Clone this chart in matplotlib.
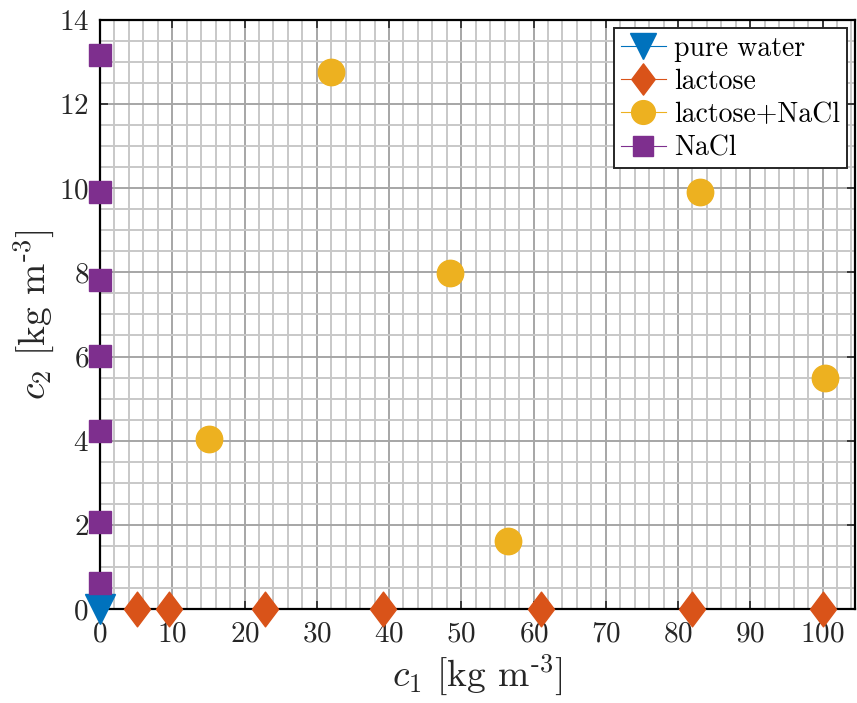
import matplotlib
matplotlib.use('Agg')
import matplotlib.pyplot as plt
from matplotlib.lines import Line2D
from matplotlib.path import Path
from matplotlib.ticker import MultipleLocator

plt.rcParams['font.family'] = 'cmr10'
plt.rcParams['mathtext.fontset'] = 'cm'
plt.rcParams['axes.formatter.use_mathtext'] = True

# data
water_x = [0]
water_y = [0]
lactose_x = [5.1, 9.5, 22.8, 39.1, 61.0, 82.0, 100.0]
lactose_y = [0, 0, 0, 0, 0, 0, 0]
mix_x = [15.1, 32.0, 48.4, 56.4, 83.0, 100.3]
mix_y = [4.05, 12.76, 7.98, 1.62, 9.9, 5.48]
nacl_x = [0, 0, 0, 0, 0, 0, 0]
nacl_y = [13.17, 9.9, 7.83, 6.02, 4.24, 2.07, 0.62]

names = ['pure water', 'lactose', 'lactose+NaCl', 'NaCl']
colors = ['#0072BD', '#D95319', '#EDB120', '#7E2F8E']

# taller MATLAB-like diamond
diamond = Path([(0, 1), (0.75, 0), (0, -1), (-0.75, 0), (0, 1)],
               [Path.MOVETO, Path.LINETO, Path.LINETO, Path.LINETO, Path.CLOSEPOLY])
markers = ['v', diamond, 'o', 's']
sizes = [21, 25, 19, 16]

fig = plt.figure(figsize=(8.57, 7.03), dpi=100)
ax = fig.add_axes([0.1167, 0.1337, 0.881, 0.838])

series = [(water_x, water_y), (lactose_x, lactose_y), (mix_x, mix_y), (nacl_x, nacl_y)]
for (xs, ys), c, m, s in zip(series, colors, markers, sizes):
    ax.plot(xs, ys, linestyle='none', marker=m, markersize=s,
            color=c, markeredgecolor=c, clip_on=False, zorder=5)

ax.set_xlim(0, 104.5)
ax.set_ylim(0, 14)
ax.xaxis.set_major_locator(MultipleLocator(10))
ax.xaxis.set_minor_locator(MultipleLocator(2))
ax.yaxis.set_major_locator(MultipleLocator(2))
ax.yaxis.set_minor_locator(MultipleLocator(0.5))

ax.grid(which='major', color='#a6a6a6', linewidth=1.4)
ax.grid(which='minor', color='#c8c8c8', linewidth=1.4)
ax.set_axisbelow(True)
ax.tick_params(which='major', direction='in', length=6, width=1.2,
               top=True, right=True, labelsize=21, colors='#262626')
ax.tick_params(axis='x', which='major', pad=9)
ax.tick_params(axis='y', which='major', pad=8)
ax.tick_params(which='minor', length=0)
for sp in ax.spines.values():
    sp.set_linewidth(1.6)
    sp.set_color('black')

ax.set_xlabel(r'$c_1$ [kg m$^{\text{-3}}$]', fontsize=27, color='#262626', labelpad=3)
ax.set_ylabel(r'$c_2$ [kg m$^{\text{-3}}$]', fontsize=27, color='#262626', labelpad=2)

handles = [Line2D([0], [0], color=c, lw=0.8, marker=m, markersize=s * 0.9,
                  markeredgecolor=c) for c, m, s in zip(colors, markers, sizes)]
leg = ax.legend(handles, names, loc='upper right', fontsize=20, frameon=True,
                fancybox=False, framealpha=1, edgecolor='#262626',
                handlelength=1.6, handletextpad=0.3, borderpad=0.25,
                labelspacing=0.25, borderaxespad=0.3)
leg.get_frame().set_linewidth(1.4)

fig.savefig('out.png', dpi=100)
